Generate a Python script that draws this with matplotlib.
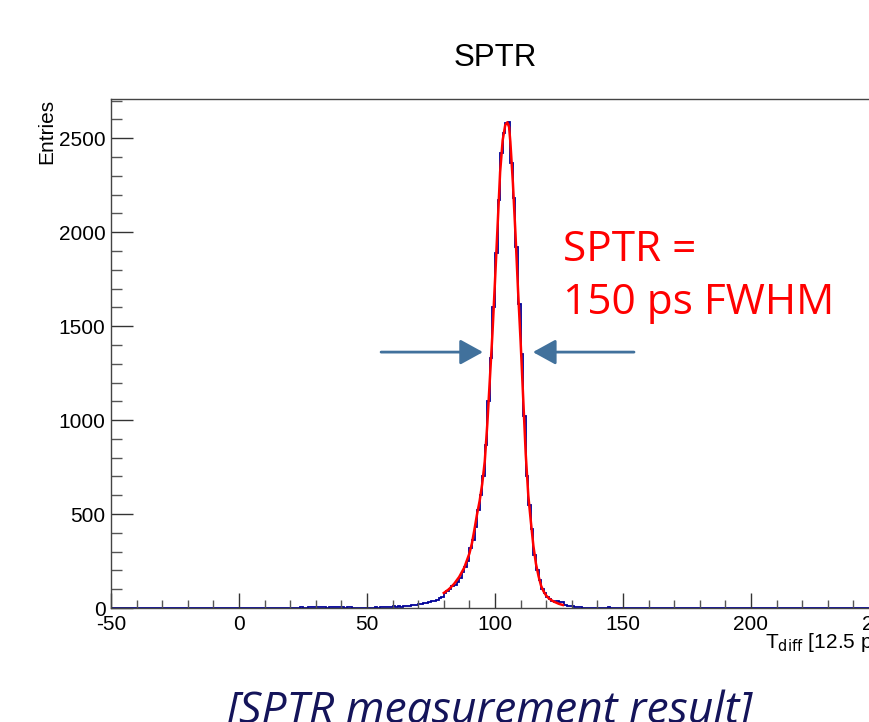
import numpy as np
import matplotlib
matplotlib.use('Agg')
import matplotlib.pyplot as plt
from matplotlib.ticker import MultipleLocator

plt.rcParams['axes.unicode_minus'] = False

# Histogram of T_diff (bin width 1, in units of 12.5 ps)
x_min, x_max = -50, 250
first_bin = 5
counts = [
    0, 0, 0, 0, 2, 0, 0, 2, 2, 0,                 # 5 - 14
    0, 2, 2, 0, 0, 0, 2, 2, 2, 3,                 # 15 - 24
    2, 2, 3, 4, 4, 3, 4, 5, 3, 2,                 # 25 - 34
    3, 4, 6, 4, 3, 3, 2, 3, 3, 2,                 # 35 - 44
    2, 0, 1, 1, 2, 0, 0, 2, 3, 1,                 # 45 - 54
    4, 5, 3, 6, 5, 8, 6, 9, 7, 11,                # 55 - 64
    9, 12, 15, 14, 18, 22, 20, 25, 28, 32,        # 65 - 74
    38, 35, 42, 52, 60, 82, 90, 100, 115, 125,    # 75 - 84
    138, 160, 190, 220, 250, 320, 360, 430, 520, 600,        # 85 - 94
    700, 870, 1100, 1330, 1600, 1890, 2170, 2420, 2530, 2580,  # 95 - 104
    2585, 2370, 2180, 1920, 1620, 1350, 1020, 700, 550, 420,   # 105 - 114
    280, 200, 150, 100, 80, 60, 50, 38, 34, 36,   # 115 - 124
    30, 32, 14, 12, 10, 9, 6, 5, 3, 2,            # 125 - 134
    1, 1, 0, 0, 0, 0, 0, 0, 0, 3,                 # 135 - 144
]

# Fit curve
fit_x = [80, 82, 84, 86, 88, 90, 91, 92, 93, 94, 95, 96, 97, 98, 99, 100,
         101, 102, 103, 104, 104.8, 105.5, 106, 107, 108, 109, 110, 111,
         112, 113, 114, 115, 116, 117, 118, 119, 120, 121, 122, 123, 124,
         125, 126.5]
fit_y = [80, 100, 128, 165, 215, 290, 345, 420, 500, 570, 660, 780, 980,
         1220, 1460, 1740, 2030, 2320, 2490, 2570, 2585, 2560, 2480, 2260,
         1990, 1690, 1420, 1120, 820, 600, 460, 330, 235, 170, 118, 88, 66,
         52, 42, 34, 28, 22, 16]

edges = np.arange(x_min, x_max + 1)
values = np.zeros(len(edges) - 1)
values[first_bin - x_min:first_bin - x_min + len(counts)] = counts

fig = plt.figure(figsize=(8.7, 7.22), dpi=100)
ax = fig.add_axes([111 / 870, 1 - 608 / 722, 768 / 870, 509 / 722])

ax.stairs(values, edges, color='#000099', lw=1.3)
ax.plot(fit_x, fit_y, color='red', lw=1.8)

ax.set_xlim(x_min, x_max)
ax.set_ylim(0, 2709)

# ROOT-like axes: ticks inside, gray frame
for side in ax.spines.values():
    side.set_color('#444444')
    side.set_linewidth(1.0)
ax.xaxis.set_major_locator(MultipleLocator(50))
ax.xaxis.set_minor_locator(MultipleLocator(10))
ax.yaxis.set_major_locator(MultipleLocator(500))
ax.yaxis.set_minor_locator(MultipleLocator(100))
ax.tick_params(axis='x', which='major', direction='in', length=11, width=1,
               color='#333333', labelsize=15, pad=5)
ax.tick_params(axis='x', which='minor', direction='in', length=6, width=1,
               color='#555555')
ax.tick_params(axis='y', which='major', direction='in', length=16, width=1,
               color='#333333', labelsize=15, pad=4)
ax.tick_params(axis='y', which='minor', direction='in', length=8, width=1,
               color='#555555')
ax.tick_params(top=False, right=False)
for lbl in ax.get_xticklabels() + ax.get_yticklabels():
    lbl.set_family('Liberation Sans')

# Titles and axis labels
fig.text(495 / 870, 1 - 58 / 722, 'SPTR', ha='center', va='center',
         fontsize=22.5, family='Liberation Sans')
fig.text(47 / 870, 1 - 99 / 722, 'Entries', ha='center', va='top',
         rotation=90, fontsize=15, family='Liberation Sans')
fig.text(765 / 870, 1 - 643 / 722, r'T$_{\mathrm{diff}}$ [12.5 ps]',
         ha='left', va='center', fontsize=15, family='Liberation Sans')

# FWHM annotation
ax.text(126.5, 1765, 'SPTR =\n150 ps FWHM', color='red', fontsize=30.5,
        family='Open Sans', ha='left', va='center', linespacing=1.35)
arrow_kw = dict(arrowstyle='-|>,head_length=1.0,head_width=0.55',
                color='#41719C', lw=2.0, mutation_scale=14,
                shrinkA=0, shrinkB=0)
ax.annotate('', xy=(95.3, 1362), xytext=(55.5, 1362), arrowprops=arrow_kw)
ax.annotate('', xy=(114.8, 1362), xytext=(154.3, 1362), arrowprops=arrow_kw)

fig.text(490 / 870, 1 - 712 / 722, '[SPTR measurement result]',
         ha='center', va='center', fontsize=32, style='italic',
         color='#14145A', family='Open Sans')

fig.savefig('out.png', dpi=100)
